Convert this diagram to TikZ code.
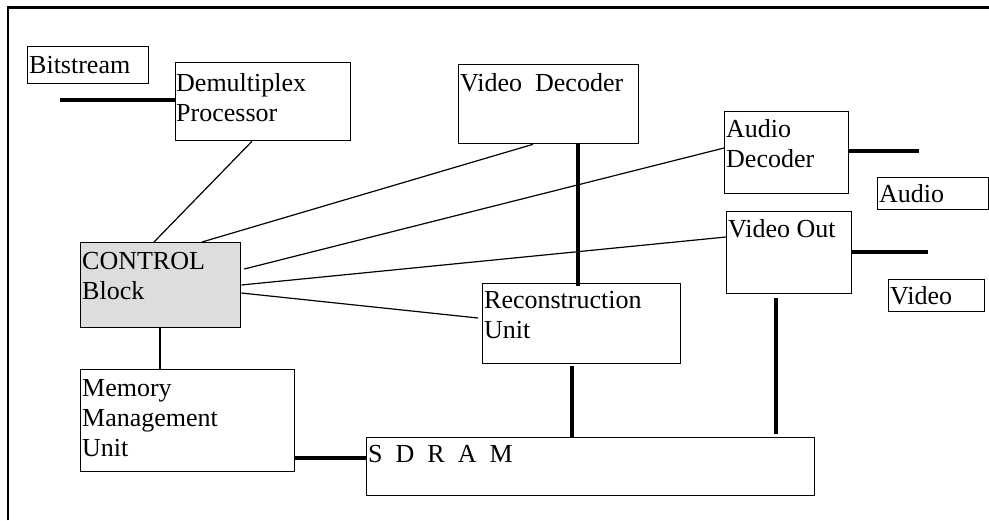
\documentclass[tikz,border=0pt]{standalone}
\usepackage{fontspec}
\setmainfont{Liberation Serif}
\usetikzlibrary{calc}
\definecolor{ctrlgrey}{HTML}{DDDDDD}
% stacked lines whose baseline is that of the first line
\newcommand{\linesof}[1]{\vtop{\baselineskip=30pt\lineskiplimit=-100pt #1}}
\begin{document}
\begin{tikzpicture}[x=1pt,y=-1pt,
  blk/.style={draw=black,line width=1.3pt,inner sep=0pt,anchor=north west},
  txt/.style={inner sep=0pt,anchor=base west,
    font=\fontsize{26}{30}\selectfont},
  thin/.style={line width=1.2pt},
  thick/.style={line width=4.8pt},
  frame/.style={line width=2.4pt}]
\useasboundingbox (0,0) rectangle (989,520);

% outer frame (top and left edges)
\draw[frame] (8,520) -- (8,7.5) -- (989,7.5);

% blocks
\node[blk,minimum width=121,minimum height=37] (bits) at (27,46) {};
\node[blk,minimum width=175,minimum height=78] (demux) at (175,62) {};
\node[blk,minimum width=180,minimum height=79] (vdec) at (458,64) {};
\node[blk,minimum width=124,minimum height=82] (adec) at (724,111) {};
\node[blk,minimum width=111,minimum height=32] (audio) at (877,177) {};
\node[blk,minimum width=125,minimum height=82] (vout) at (726,211) {};
\node[blk,minimum width=96,minimum height=32] (video) at (888,279) {};
\node[blk,fill=ctrlgrey,minimum width=160,minimum height=85] (ctrl) at (80,242) {};
\node[blk,minimum width=198,minimum height=80] (recon) at (482,283) {};
\node[blk,minimum width=214,minimum height=102] (mmu) at (80,369) {};
\node[blk,minimum width=448,minimum height=58] (sdram) at (366,437) {};

% labels
\node[txt] (tbits) at ($(bits.north west)+(2,27)$) {Bitstream};
\node[txt] (tdemux) at ($(demux.north west)+(1,29)$) {\linesof{\hbox{Demultiplex}\hbox{Processor}}};
\node[txt] (tvdec) at ($(vdec.north west)+(2,27)$) {Video\ \ Decoder};
\node[txt] (tadec) at ($(adec.north west)+(2,26)$) {\linesof{\hbox{Audio}\hbox{Decoder}}};
\node[txt] (taudio) at ($(audio.north west)+(2,25)$) {Audio};
\node[txt] (tvout) at ($(vout.north west)+(2,26)$) {Video Out};
\node[txt] (tvideo) at ($(video.north west)+(2,25)$) {Video};
\node[txt] (tctrl) at ($(ctrl.north west)+(2,27)$) {\linesof{\hbox{CONTROL}\hbox{Block}}};
\node[txt] (trecon) at ($(recon.north west)+(2,25)$) {\linesof{\hbox{Reconstruction}\hbox{Unit}}};
\node[txt] (tmmu) at ($(mmu.north west)+(2,27)$) {\linesof{\hbox{Memory}\hbox{Management}\hbox{Unit}}};
\node[txt] (tsdram) at ($(sdram.north west)+(2,25)$) {S\ \ D\ \ R\ \ A\ \ M};

% control connections
\draw[thin] ($(demux.south west)+(77,0)$) -- ($(ctrl.north west)+(74,0)$);
\draw[thin] ($(vdec.south west)+(75,0)$) -- ($(ctrl.north west)+(122,0)$);
\draw[thin] ($(adec.north west)+(0,37)$) -- ($(ctrl.north east)+(3,27)$);
\draw[thin] ($(vout.north west)+(0,26)$) -- ($(ctrl.north east)+(0,43)$);
\draw[thin] ($(ctrl.north east)+(0,51)$) -- ($(recon.north west)+(-4,35)$);
\draw[thin] ($(ctrl.south west)+(80,0)$) -- ($(mmu.north west)+(80,0)$);

% data paths
\coordinate (bitsin) at (60,100);
\coordinate (aout) at (919,151);
\coordinate (vidout) at (928,252);
\draw[thick] (bitsin) -- (bitsin -| demux.west);
\draw[thick] ($(vdec.south west)+(120,0)$) -- ($(recon.north west)+(96,3)$);
\draw[thick] (aout -| adec.east) -- (aout);
\draw[thick] (vidout -| vout.east) -- (vidout);
\draw[thick] ($(recon.south west)+(90,2)$) -- ($(sdram.north west)+(206,1)$);
\draw[thick] ($(vout.south west)+(50,4)$) -- ($(sdram.north west)+(410,-3)$);
\draw[thick] ($(mmu.north east)+(0,89)$) -- ($(sdram.north west)+(0,21)$);
\end{tikzpicture}
\end{document}
